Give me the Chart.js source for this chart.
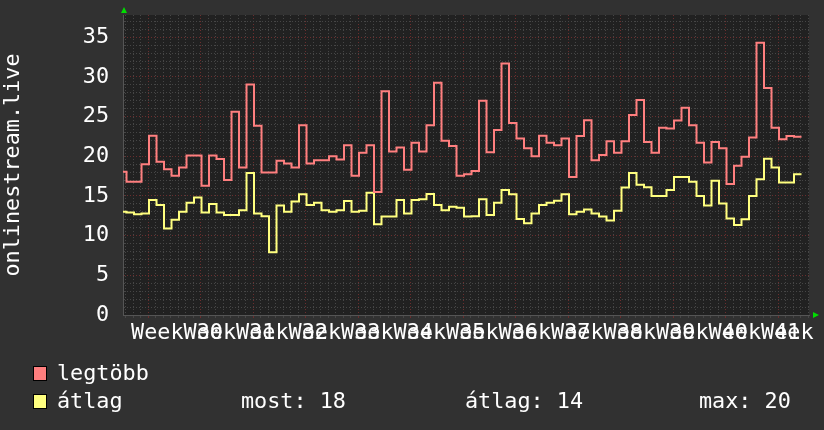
<!DOCTYPE html>
<html>
<head>
<meta charset="utf-8">
<script src="https://cdn.jsdelivr.net/npm/chart.js@4"></script>
<style>
  html, body { margin: 0; padding: 0; background: #313131; }
  #wrap { position: relative; width: 824px; height: 430px; font-family: 'DejaVu Sans Mono', monospace; font-size: 21.8px; color: #fff; }
  #wrap canvas { position: absolute; left: 0; top: 0; }
  .box { position: absolute; width: 12px; height: 13px; border: 1px solid #000; }
  .txt { position: absolute; line-height: 24px; white-space: pre; }
</style>
</head>
<body>
<div id="wrap">
  <canvas id="myChart" width="824" height="430"></canvas>
  <div class="box" style="left:33px;top:366px;background:#ff7f7f"></div>
  <div class="txt" style="left:57px;top:361px" id="lg0"></div>
  <div class="box" style="left:33px;top:394px;background:#ffff7f"></div>
  <div class="txt" style="left:57px;top:389px" id="lg1"></div>
  <div class="txt" style="left:241px;top:389px" id="gp0"></div>
  <div class="txt" style="left:465px;top:389px" id="gp1"></div>
  <div class="txt" style="left:699px;top:389px" id="gp2"></div>
</div>
<script>
const seriesNames = ['legtöbb', 'átlag'];
const weekLabels = ['Week 30', 'Week 31', 'Week 32', 'Week 33', 'Week 34', 'Week 35', 'Week 36',
  'Week 37', 'Week 38', 'Week 39', 'Week 40', 'Week 41', 'Week 42'];
const yTickLabels = ['0', '5', '10', '15', '20', '25', '30', '35'];
const gprintLabels = ['most: 18', 'átlag: 14', 'max: 20'];

// daily values, legtöbb (max)
const maxValues = [18.05, 16.8, 16.8, 19.0, 22.6, 19.3, 18.35, 17.55, 18.6, 20.1,
  20.1, 16.3, 20.1, 19.65, 17.0, 25.6, 18.6, 29.05, 23.85, 17.95,
  17.95, 19.45, 19.1, 18.6, 23.9, 19.1, 19.5, 19.5, 20.0, 19.6,
  21.4, 17.55, 20.45, 21.4, 15.5, 28.2, 20.6, 21.1, 18.3, 21.7,
  20.6, 23.9, 29.25, 21.95, 21.3, 17.55, 17.75, 18.15, 27.0, 20.5,
  23.3, 31.7, 24.2, 22.25, 21.0, 20.0, 22.6, 21.7, 21.4, 22.25,
  17.4, 22.55, 24.55, 19.5, 20.15, 21.9, 20.45, 21.9, 25.2, 27.1,
  21.8, 20.45, 23.6, 23.5, 24.5, 26.1, 23.9, 21.7, 19.2, 21.8,
  21.0, 16.5, 18.8, 19.95, 22.35, 34.3, 28.6, 23.6, 22.15, 22.55,
  22.45];

// daily values, átlag (average)
const avgValues = [13.0, 12.9, 12.7, 12.8, 14.5, 13.85, 10.9, 12.0, 13.0, 14.15,
  14.8, 12.9, 14.0, 12.9, 12.6, 12.6, 13.2, 17.9, 12.8, 12.45,
  7.9, 13.8, 13.0, 14.3, 15.2, 13.85, 14.15, 13.2, 13.0, 13.2,
  14.35, 13.0, 13.15, 15.4, 11.45, 12.4, 12.4, 14.5, 12.8, 14.5,
  14.6, 15.25, 13.85, 13.2, 13.65, 13.5, 12.4, 12.45, 14.6, 12.6,
  14.15, 15.75, 15.2, 12.1, 11.55, 12.8, 13.85, 14.15, 14.4, 15.2,
  12.7, 13.0, 13.3, 12.8, 12.4, 11.9, 13.15, 16.05, 17.9, 16.4,
  16.1, 15.0, 15.0, 15.75, 17.4, 17.4, 16.8, 15.0, 13.8, 16.9,
  14.05, 12.15, 11.35, 12.05, 15.0, 17.1, 19.7, 18.6, 16.7, 16.7,
  17.75];

const firstWeek = 3.87;   // day offset of the first week grid line
const xMin = 0.53, xMax = 92, yMax = 37.8;

// each daily value covers [i, i+1); the extra end point closes the last step
function stepData(values) {
  const pts = values.map((v, i) => ({ x: i, y: v }));
  pts.push({ x: values.length, y: values[values.length - 1] });
  return pts;
}
function isWeek(v) {
  const k = Math.round(v - firstWeek);
  return k >= 0 && k % 7 === 0 && Math.abs(v - firstWeek - k) < 0.01;
}

document.getElementById('lg0').textContent = seriesNames[0];
document.getElementById('lg1').textContent = seriesNames[1];
gprintLabels.forEach((t, i) => document.getElementById('gp' + i).textContent = t);

const font = { family: 'DejaVu Sans Mono', size: 21.8 };
const majorColor = '#6a2e2e';
const minorColor = '#464646';

const plotBg = {
  id: 'plotBg',
  beforeDraw(chart) {
    const { ctx, chartArea: a } = chart;
    ctx.save();
    ctx.fillStyle = '#212121';
    ctx.fillRect(a.left, a.top, a.right - a.left, a.bottom - a.top);
    ctx.restore();
  },
  afterDraw(chart) {
    const { ctx, chartArea: a } = chart;
    ctx.save();
    ctx.fillStyle = '#00dd00';
    ctx.beginPath();
    ctx.moveTo(a.left + 1, a.top - 8);
    ctx.lineTo(a.left - 2, a.top - 2);
    ctx.lineTo(a.left + 4, a.top - 2);
    ctx.closePath();
    ctx.fill();
    ctx.beginPath();
    ctx.moveTo(a.right + 10, a.bottom);
    ctx.lineTo(a.right + 4, a.bottom - 3);
    ctx.lineTo(a.right + 4, a.bottom + 3);
    ctx.closePath();
    ctx.fill();
    ctx.restore();
  }
};

new Chart(document.getElementById('myChart'), {
  type: 'line',
  data: {
    datasets: [{
      label: seriesNames[0],
      data: stepData(maxValues),
      borderColor: '#ff7f7f',
      borderWidth: 2,
      stepped: 'before',
      pointRadius: 0
    }, {
      label: seriesNames[1],
      data: stepData(avgValues),
      borderColor: '#ffff7f',
      borderWidth: 2,
      stepped: 'before',
      pointRadius: 0
    }]
  },
  options: {
    responsive: false,
    animation: false,
    events: [],
    layout: { padding: { top: 15, right: 15, left: 0, bottom: 0 } },
    plugins: { legend: { display: false }, tooltip: { enabled: false } },
    scales: {
      x: {
        type: 'linear',
        min: xMin,
        max: xMax,
        afterBuildTicks(scale) {
          const t = [];
          for (let k = -3; k < 90; k++) {
            const v = firstWeek + k;
            if (v >= xMin && v <= xMax) t.push({ value: v });
          }
          scale.ticks = t;
        },
        afterFit(scale) {
          scale.height = 115;
          scale.paddingLeft = 0;
          scale.paddingRight = 0;
        },
        ticks: {
          autoSkip: false,
          maxRotation: 0,
          minRotation: 0,
          color: '#ffffff',
          font: font,
          padding: 2,
          labelOffset: 29,
          callback(v) {
            if (!isWeek(v)) return '';
            return weekLabels[Math.round((v - firstWeek) / 7)];
          }
        },
        grid: {
          color: (c) => isWeek(c.tick.value) ? majorColor : minorColor,
          tickLength: 3,
          lineWidth: 1
        },
        border: { display: true, color: '#555555', dash: [1, 2] }
      },
      y: {
        min: 0,
        max: yMax,
        afterBuildTicks(scale) {
          const t = [];
          for (let v = 0; v <= 37; v++) t.push({ value: v });
          scale.ticks = t;
        },
        afterFit(scale) {
          scale.width = 123;
          scale.paddingTop = 0;
          scale.paddingBottom = 0;
        },
        ticks: {
          autoSkip: false,
          color: '#ffffff',
          font: font,
          padding: 14,
          callback(v) {
            return v % 5 === 0 ? yTickLabels[v / 5] : '';
          }
        },
        grid: {
          color: (c) => c.tick.value % 5 === 0 ? majorColor : minorColor,
          drawTicks: false,
          lineWidth: 1
        },
        border: { display: true, color: '#555555', dash: [1, 2] },
        title: {
          display: true,
          text: 'onlinestream.live',
          color: '#ffffff',
          font: font,
          padding: 0
        }
      }
    }
  },
  plugins: [plotBg]
});
</script>
</body>
</html>
